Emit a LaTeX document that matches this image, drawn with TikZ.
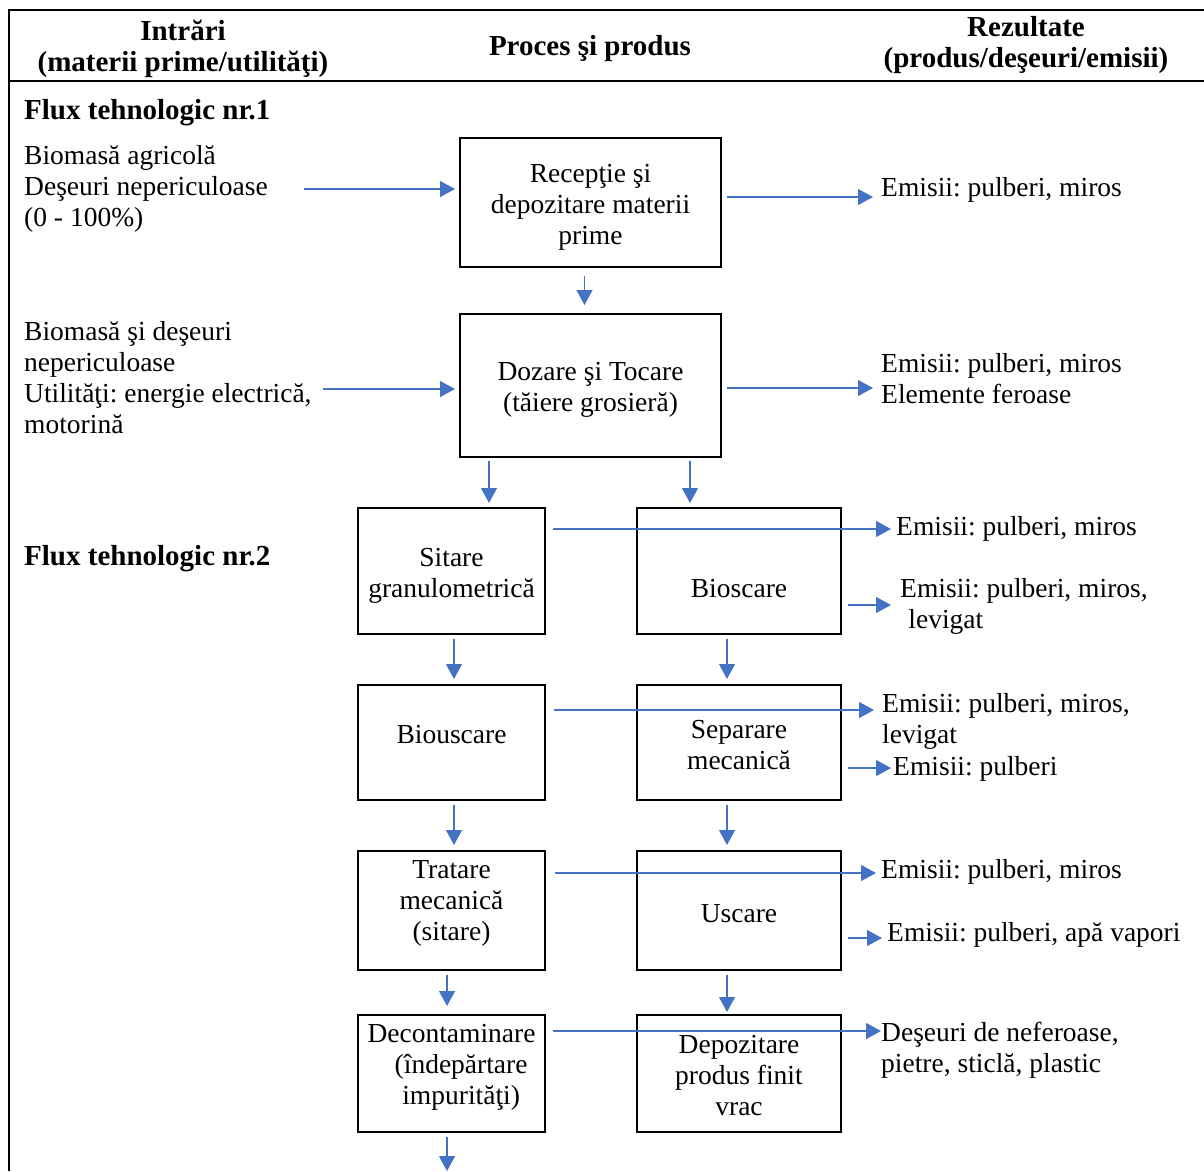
\documentclass[tikz,border=0pt]{standalone}
\usepackage{fontspec}
\setmainfont{Liberation Serif}
\usetikzlibrary{calc,positioning,arrows.meta}
\definecolor{flowblue}{HTML}{4472C4}
\frenchspacing

\begin{document}
\begin{tikzpicture}[x=1pt,y=-1pt,
    txt/.style={font=\fontsize{27.5}{31}\selectfont, inner sep=0pt, align=left, anchor=west},
    head/.style={font=\fontsize{29}{31}\selectfont\bfseries, inner sep=0pt, align=center},
    proc/.style={draw, line width=1.5pt, outer sep=0pt, inner sep=0pt},
    ptxt/.style={font=\fontsize{27.5}{31}\selectfont, align=center, inner sep=0pt},
    flow/.style={draw=flowblue, line width=1.2pt, -{Triangle[length=15pt,width=16pt]}}]
    \useasboundingbox (0,0) rectangle (1204,1171);
    % Table frame
    \draw[line width=1.5pt] (9,1171) -- (9,10) -- (1204,10);
    \draw[line width=1.5pt] (9,81) -- (1204,81);
    % Header
    \node[head] (hin) at (183,48.5) {Intrări\\(materii prime/utilităţi)};
    \node[head] (hproc) at (590,49) {Proces şi produs};
    \node[head] (hrez) at (1026,45.5) {Rezultate\\(produs/deşeuri/emisii)};
    \node[txt,font=\fontsize{29}{31}\selectfont\bfseries] (flux1) at (24,113) {Flux tehnologic nr.1};
    \node[txt,font=\fontsize{29}{31}\selectfont\bfseries] (flux2) at (24,559) {Flux tehnologic nr.2};
    % Process boxes (text as centre labels)
    \node[proc,minimum width=261,minimum height=129,
        label={[ptxt,yshift=-5pt]center:{Recepţie şi\\depozitare materii\\prime}}] (recep) at (590.5,202.5) {};
    \node[proc,minimum width=261,minimum height=143,
        label={[ptxt,yshift=-4pt]center:{Dozare şi Tocare\\(tăiere grosieră)}}] (dozare) at (590.5,385.5) {};
    \node[proc,minimum width=187,minimum height=126,
        label={[ptxt,yshift=-5pt]center:{Sitare\\granulometrică}}] (sitare) at (451.5,571) {};
    \node[proc,minimum width=204,minimum height=126,
        label={[ptxt,yshift=-18pt]center:{Bioscare}}] (bioscare) at (739,571) {};
    \node[proc,minimum width=187,minimum height=115,
        label={[ptxt,yshift=8pt]center:{Biouscare}}] (biousc) at (451.5,742.5) {};
    \node[proc,minimum width=204,minimum height=115,
        label={[ptxt,yshift=-3pt]center:{Separare\\mecanică}}] (separ) at (739,742.5) {};
    \node[proc,minimum width=187,minimum height=119,
        label={[ptxt,yshift=7pt]center:{Tratare\\mecanică\\(sitare)}}] (tratare) at (451.5,910.5) {};
    \node[proc,minimum width=204,minimum height=119,
        label={[ptxt,yshift=-3pt]center:{Uscare}}] (uscare) at (739,910.5) {};
    \node[proc,minimum width=187,minimum height=117,
        label={[ptxt,yshift=6pt]center:{Decontaminare\\\hspace*{0.7em}(îndepărtare\\\hspace*{0.7em}impurităţi)}}] (decont) at (451.5,1073.5) {};
    \node[proc,minimum width=204,minimum height=117,
        label={[ptxt,yshift=-2pt]center:{Depozitare\\produs finit\\vrac}}] (depoz) at (739,1073.5) {};
    \coordinate (dout) at (447,1171);
    % Inputs
    \node[txt] (in1) at (24,189) {Biomasă agricolă\\Deşeuri nepericuloase\\(0 - 100\%)};
    \node[txt] (in2) at (24,378) {Biomasă şi deşeuri\\nepericuloase\\Utilităţi: energie electrică,\\motorină};
    % Results
    \node[txt] (em1) at (881,190) {Emisii: pulberi, miros};
    \node[txt] (em2) at (881,378.5) {Emisii: pulberi, miros\\Elemente feroase};
    \node[txt] (em3) at (896,529) {Emisii: pulberi, miros};
    \node[txt] (em4) at (900,606.5) {Emisii: pulberi, miros,\\\hspace*{0.3em}levigat};
    \node[txt] (em5) at (882,721.5) {Emisii: pulberi, miros,\\levigat};
    \node[txt] (em6) at (893,769) {Emisii: pulberi};
    \node[txt] (em7) at (881,872) {Emisii: pulberi, miros};
    \node[txt] (em8) at (887,935) {Emisii: pulberi, apă vapori};
    \node[txt] (em9) at (881,1050) {Deşeuri de neferoase,\\pietre, sticlă, plastic};
    % Input arrows
    \draw[flow] ($(in1.east)+(36,0)$) -- ($(recep.west)+(-5,-13.5)$);
    \draw[flow] ($(in2.east)+(11,11)$) -- ($(dozare.west)+(-5,3.5)$);
    % Process flow
    \draw[flow] ($(recep.south)+(-6,9)$) -- ($(dozare.north)+(-6,-9)$);
    \draw[flow] ($(dozare.south west)+(29,4)$) -- ($(sitare.north)+(37.5,-5)$);
    \draw[flow] ($(dozare.south east)+(-31,4)$) -- ($(bioscare.north)+(-49,-5)$);
    \draw[flow] ($(sitare.south)+(2.5,5)$) -- ($(biousc.north)+(2.5,-6)$);
    \draw[flow] ($(bioscare.south)+(-12,5)$) -- ($(separ.north)+(-12,-6)$);
    \draw[flow] ($(biousc.south)+(2.5,5)$) -- ($(tratare.north)+(2.5,-6)$);
    \draw[flow] ($(separ.south)+(-12,5)$) -- ($(uscare.north)+(-12,-6)$);
    \draw[flow] ($(tratare.south)+(-4.5,5)$) -- ($(decont.north)+(-4.5,-9)$);
    \draw[flow] ($(uscare.south)+(-12,5)$) -- ($(depoz.north)+(-12,-3)$);
    \draw[flow] ($(decont.south)+(-4.5,5)$) -- (dout);
    % Output arrows
    \draw[flow] ($(recep.east)+(6,-5.5)$) -- ($(em1.west)+(-8,7)$);
    \draw[flow] ($(dozare.east)+(6,2.5)$) -- ($(em2.west)+(-8,9.5)$);
    \draw[flow] ($(sitare.north east)+(8,21)$) -- ($(em3.west)+(-5,0)$);
    \draw[flow] ($(bioscare.east)+(7,34)$) -- ($(em4.west)+(-9,-1.5)$);
    \draw[flow] ($(biousc.north east)+(9,25)$) -- ($(em5.west)+(-8,-11.5)$);
    \draw[flow] ($(separ.east)+(7,25.5)$) -- ($(em6.west)+(-2,-1)$);
    \draw[flow] ($(tratare.north east)+(10,22)$) -- ($(em7.west)+(-5,1)$);
    \draw[flow] ($(uscare.east)+(7,27.5)$) -- ($(em8.west)+(-5,3)$);
    \draw[flow] ($(decont.north east)+(8,16)$) -- ($(em9.west)+(0,-19)$);
\end{tikzpicture}
\end{document}
